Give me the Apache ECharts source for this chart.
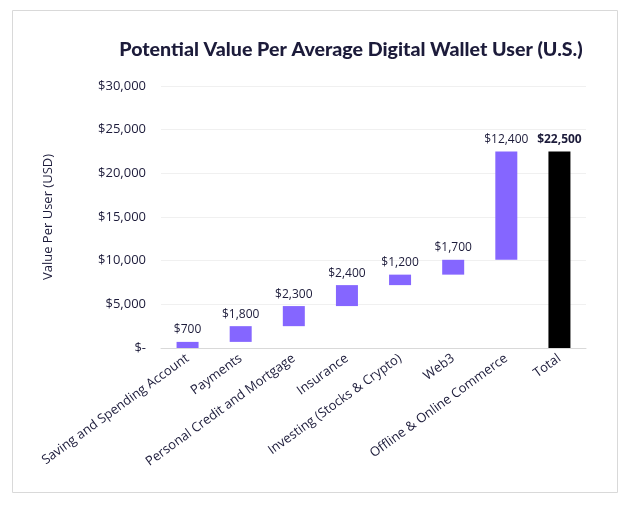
<!DOCTYPE html>
<html><head><meta charset="utf-8">
<script src="https://cdn.jsdelivr.net/npm/echarts@6/dist/echarts.min.js"></script>
<style>html,body{margin:0;padding:0;background:#fff}#c{width:628px;height:506px}</style>
</head><body><div id="c"></div>
<script>
const categories = ["Saving and Spending Account","Payments","Personal Credit and Mortgage","Insurance","Investing (Stocks & Crypto)","Web3","Offline & Online Commerce","Total"];
const increments = [700,1800,2300,2400,1200,1700,12400];
const totalValue = 22500;
const yTicks = [0,5000,10000,15000,20000,25000,30000];

// build waterfall bases from increments
const bases = [], visible = [];
let run = 0;
increments.forEach(v => { bases.push(run); visible.push(v); run += v; });
bases.push(0); visible.push(totalValue);

const fmt = v => v === 0 ? "$-" : "$" + v.toLocaleString("en-US");
const chart = echarts.init(document.getElementById('c'));
chart.setOption({
  animation:false,
  title:{text:"Potential Value Per Average Digital Wallet User (U.S.)",left:346,top:35,textAlign:'center',
    textStyle:{fontFamily:"Lato",fontWeight:900,fontSize:19.6,color:'#1c1b3a'}},
  graphic:[{type:'rect',shape:{x:12.5,y:10.5,width:605,height:482},style:{fill:'none',stroke:'#d9d9d9',lineWidth:1}}],
  grid:{left:161,right:42,top:86,bottom:158},
  xAxis:{type:'category',data:categories,
    axisLine:{lineStyle:{color:'#d9d9d9'}},axisTick:{show:false},
    axisLabel:{rotate:36,interval:0,fontFamily:"Open Sans",fontSize:13,color:'#1c1b3a',margin:9}},
  yAxis:{type:'value',min:0,max:30000,interval:5000,
    name:"Value Per User (USD)",nameLocation:'middle',nameGap:106,nameRotate:90,
    nameTextStyle:{fontFamily:"Open Sans",fontSize:13,color:'#1c1b3a'},
    axisLine:{show:false},axisTick:{show:false},
    splitLine:{lineStyle:{color:'#f0f0f0'}},
    axisLabel:{formatter:v=>yTicks.includes(v)?fmt(v):'',fontFamily:"Open Sans",fontSize:13,color:'#1c1b3a',margin:15}},
  series:[
    {type:'bar',stack:'w',data:bases,itemStyle:{color:'transparent'},barWidth:22,silent:true},
    {type:'bar',stack:'w',data:visible.map((v,i)=>({value:v,itemStyle:{color:i===visible.length-1?'#000000':'#8566ff'},
      label:{fontWeight:i===visible.length-1?'bold':'normal'}})),barWidth:22,
      label:{show:true,position:'top',formatter:p=>fmt(p.value),fontFamily:"Open Sans",fontSize:12,color:'#1c1b3a',distance:6}}
  ]
});
</script></body></html>
